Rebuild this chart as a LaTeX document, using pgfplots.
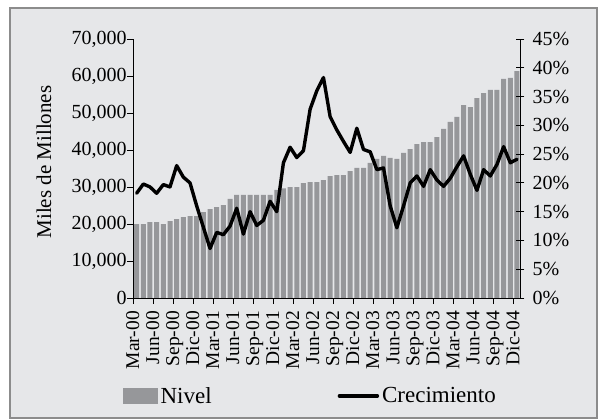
\documentclass[border=0pt]{standalone}
\usepackage{pgfplots}
\pgfplotsset{compat=1.18}
\usepackage{fontspec}
\setmainfont{Liberation Serif}
\definecolor{bg}{RGB}{230,231,233}
\definecolor{barc}{RGB}{150,151,154}
\definecolor{frm}{RGB}{140,140,140}
\newcommand{\fs}[1]{\fontsize{#1bp}{#1bp}\selectfont}
\begin{document}
\begin{tikzpicture}[x=1bp,y=1bp]
\useasboundingbox (0,0) rectangle (598,419);
\fill[white] (0,0) rectangle (598,419);
\fill[bg] (10,1) rectangle (597,411);
\draw[frm, line width=2bp] (10,1) rectangle (597,411);
\begin{axis}[
  at={(133.3bp,121bp)}, anchor=south west, scale only axis,
  width=387bp, height=259bp,
  xmin=-0.5, xmax=57.5, ymin=0, ymax=70000,
  axis x line*=bottom, axis y line*=left,
  axis line style={black, line width=0.9bp, -},
  tick align=outside, major tick length=6bp,
  tick style={black, line width=0.9bp},
  xtick={-0.5,2.5,...,56.5}, xticklabels={},
  ytick={0,10000,...,70000},
  scaled y ticks=false,
  /pgf/number format/1000 sep={,},
  /pgf/number format/assume math mode=true,
  yticklabel style={font=\fs{20}, inner sep=0.5bp},
  ylabel={Miles de Millones},
  ylabel style={at={(axis description cs:-0.2307,0.525)}, anchor=center, font=\fs{21}},
]
\addplot[ybar, bar width=5bp, fill=barc, draw=none] coordinates {
(0,20000) (1,20000) (2,20540) (3,20540) (4,20000) (5,20810) (6,21350) (7,21890)
(8,22160) (9,22160) (10,23240) (11,24050) (12,24590) (13,25130) (14,26760) (15,27840)
(16,27840) (17,27840) (18,27840) (19,27840) (20,27840) (21,29190) (22,29600) (23,30000)
(24,30000) (25,31080) (26,31350) (27,31350) (28,31890) (29,32970) (30,33240) (31,33240)
(32,34320) (33,35140) (34,35140) (35,36490) (36,37570) (37,38380) (38,37840) (39,37570)
(40,39190) (41,40270) (42,41620) (43,42160) (44,42160) (45,43510) (46,45680) (47,47570)
(48,48920) (49,52160) (50,51620) (51,54050) (52,55400) (53,56220) (54,56220) (55,59190)
(56,59460) (57,61350)};
\end{axis}
\begin{axis}[
  at={(133.3bp,121bp)}, anchor=south west, scale only axis,
  width=387bp, height=259bp,
  xmin=-0.5, xmax=57.5, ymin=0, ymax=45,
  axis x line*=bottom, axis y line*=right,
  axis line style={black, line width=0.9bp, -},
  tick align=center, major tick length=8bp,
  tick style={black, line width=0.9bp},
  x tick style={draw=none},
  xtick={0,3,...,57},
  xticklabels={Mar-00,Jun-00,Sep-00,Dic-00,Mar-01,Jun-01,Sep-01,Dic-01,Mar-02,Jun-02,Sep-02,Dic-02,Mar-03,Jun-03,Sep-03,Dic-03,Mar-04,Jun-04,Sep-04,Dic-04},
  x tick label style={yshift=-9bp, rotate=90, anchor=east, font=\fs{19.5}, inner sep=0pt, text height=0.68em, text depth=0.2em},
  ytick={0,5,...,45},
  yticklabel={\pgfmathprintnumber{\tick}\%},
  /pgf/number format/assume math mode=true,
  yticklabel style={font=\fs{20}, inner sep=0pt, xshift=8bp},
  legend style={at={(axis description cs:-0.0266,-0.378)}, anchor=west, draw=none, fill=none,
    inner sep=0pt, font=\fs{23}, legend columns=2,
    nodes={inner sep=3bp},
    /tikz/every even column/.append style={column sep=123bp}},
]
\addlegendimage{legend image code/.code={\fill[barc] (0bp,-7.5bp) rectangle (34bp,7.5bp);}}
\addlegendentry{Nivel}
\addplot[black, line width=3.4bp, line join=round, line cap=round,
  legend image code/.code={\draw[black, line width=3.4bp] (0bp,0bp) -- (38bp,0bp);}] coordinates {
(0,18.2) (1,19.8) (2,19.3) (3,18.2) (4,19.7) (5,19.3) (6,23.0) (7,21.0)
(8,20.0) (9,16.0) (10,12.3) (11,8.6) (12,11.4) (13,11.0) (14,12.5) (15,15.6)
(16,11.1) (17,15.0) (18,12.6) (19,13.5) (20,16.8) (21,15.0) (22,23.5) (23,26.2)
(24,24.4) (25,25.6) (26,32.8) (27,36.0) (28,38.3) (29,31.5) (30,29.2) (31,27.2)
(32,25.3) (33,29.5) (34,25.8) (35,25.4) (36,22.3) (37,22.6) (38,16.0) (39,12.2)
(40,16.0) (41,20.0) (42,21.2) (43,19.4) (44,22.3) (45,20.5) (46,19.4) (47,20.8)
(48,22.8) (49,24.7) (50,21.5) (51,18.7) (52,22.3) (53,21.2) (54,23.2) (55,26.3)
(56,23.5) (57,24.1)};
\addlegendentry{Crecimiento}
\end{axis}
\end{tikzpicture}
\end{document}
